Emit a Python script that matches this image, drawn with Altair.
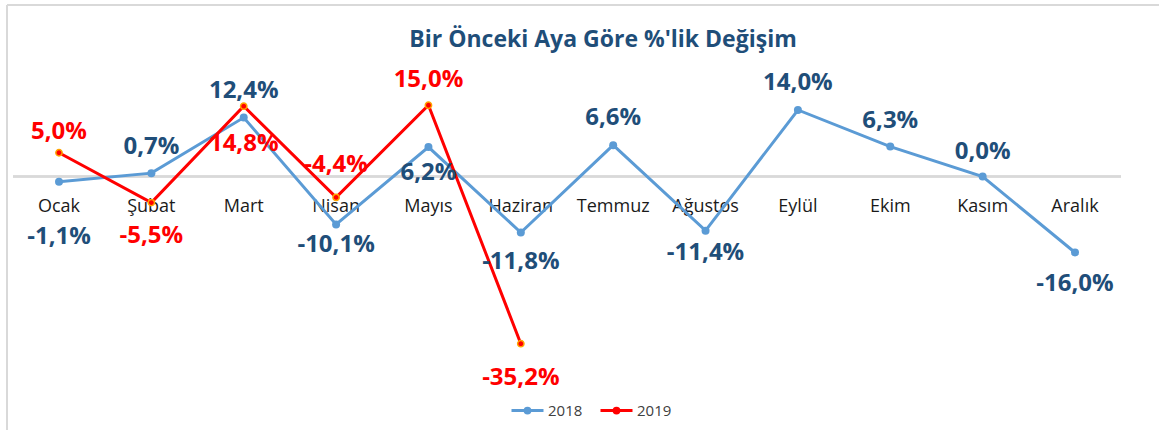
import altair as alt
import pandas as pd

# ---------------- data ----------------
months = ["Ocak", "Şubat", "Mart", "Nisan", "Mayıs", "Haziran",
          "Temmuz", "Ağustos", "Eylül", "Ekim", "Kasım", "Aralık"]
years = ["2018", "2019"]
v2018 = [-1.1, 0.7, 12.4, -10.1, 6.2, -11.8, 6.6, -11.4, 14.0, 6.3, 0.0, -16.0]
v2019 = [5.0, -5.5, 14.8, -4.4, 15.0, -35.2]
title_text = "Bir Önceki Aya Göre %'lik Değişim"

# ---------------- layout (label offsets in px, not data) ----------------
off2018 = [55, -26, -27, 21, 26, 29, -27, 22, -27, -26, -24, 32]
off2019 = [-21, 33, 38, -32, -25, 34]

def fmt(v):
    return f"{v:.1f}%".replace(".", ",")

rows = []
for m, v, o in zip(months, v2018, off2018):
    rows.append(dict(month=m, year="2018", value=v, off=o, label=fmt(v)))
for m, v, o in zip(months, v2019, off2019):
    rows.append(dict(month=m, year="2019", value=v, off=o, label=fmt(v)))
df = pd.DataFrame(rows)
mdf = pd.DataFrame({"month": months, "zero": [0.0] * len(months)})

W, H = 1152, 425
FONT = "Open Sans"
BLUE = "#5b9bd5"
RED = "#ff0000"
DARK = "#1f4e79"

xs = alt.Scale(type="point", domain=months, range=[52, 1068], padding=0)
ys = alt.Scale(domain=[-53.37, 36.1], nice=False, zero=False)
X = alt.X("month:N", scale=xs, axis=None)
Y = alt.Y("value:Q", scale=ys, axis=None)
Y0 = alt.Y("zero:Q", scale=ys, axis=None)

base = alt.Chart(df)

# outer frame (top and left edges only, as in the reference)
frame = alt.Chart(mdf.head(1)).mark_rule(color="#d9d9d9", strokeWidth=2)
frame_top = frame.encode(x=alt.value(0), x2=alt.value(W + 10), y=alt.value(0))
frame_left = frame.encode(x=alt.value(0), y=alt.value(0), y2=alt.value(H + 10))

zero = alt.Chart(mdf).mark_rule(color="#d9d9d9", strokeWidth=1.5).encode(
    x=alt.value(6), x2=alt.value(1114), y=Y0)

month_labels = alt.Chart(mdf).mark_text(
    font=FONT, fontSize=18, color="#1a1a1a", dy=30.5, baseline="middle"
).encode(x=X, y=Y0, text="month:N")

lines = base.mark_line(strokeWidth=3).encode(
    x=X, y=Y,
    color=alt.Color("year:N", scale=alt.Scale(domain=years, range=[BLUE, RED]),
                    legend=alt.Legend(
                        orient="none", legendX=503, legendY=388, direction="horizontal", title=None,
                        symbolType="M-1,0L1,0M-0.15,0A0.15,0.15,0,1,1,0.15,0A0.15,0.15,0,1,1,-0.15,0Z",
                        symbolSize=1024, symbolStrokeWidth=3, labelFont=FONT, labelFontSize=15,
                        labelColor="#404040", labelOffset=3, columnPadding=11,
                    )),
)

points18 = base.transform_filter(alt.datum.year == "2018").mark_circle(
    size=64, color=BLUE, opacity=1).encode(x=X, y=Y)
points19 = base.transform_filter(alt.datum.year == "2019").mark_point(
    filled=True, size=40, fill=RED, stroke="#ffa500", strokeWidth=1.5, opacity=1
).encode(x=X, y=Y)

lab_style = dict(font=FONT, fontSize=24, fontWeight="bold", baseline="middle")
label_layers = []
for yr, col, offs in (("2018", DARK, off2018), ("2019", RED, off2019)):
    for o in sorted(set(offs)):
        label_layers.append(
            base.transform_filter((alt.datum.year == yr) & (alt.datum.off == o))
            .mark_text(color=col, dy=o, **lab_style)
            .encode(x=X, y=Y, text="label:N")
        )

chart = alt.layer(
    frame_top, frame_left, zero, month_labels, lines, points18, points19, *label_layers
).properties(
    width=W, height=H,
    title=alt.TitleParams(title_text, font=FONT, fontSize=23, fontWeight="bold", color=DARK,
                          anchor="middle", dx=20, offset=-48),
    autosize=alt.AutoSizeParams(type="none"),
    padding={"left": 7, "top": 5, "right": 0, "bottom": 0},
).configure_view(stroke=None)

chart.save("out.html", embed_options={"renderer": "svg", "actions": False})
